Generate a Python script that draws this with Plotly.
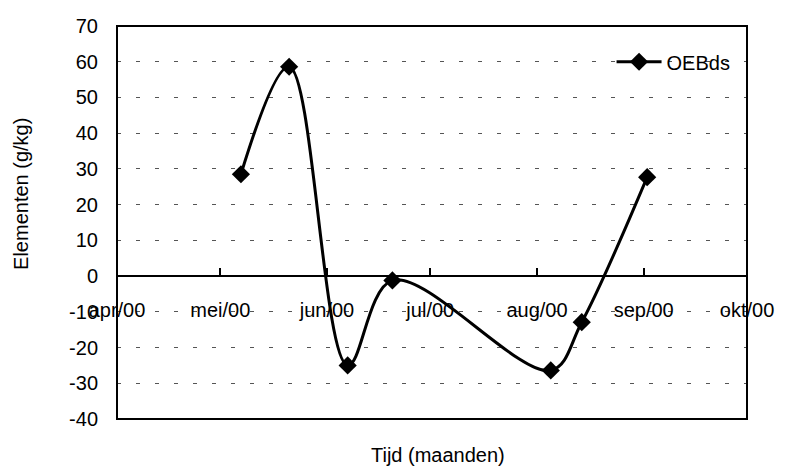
import plotly.graph_objects as go

# sample dates and OEB values
dates = ["2000-05-07", "2000-05-21", "2000-06-07", "2000-06-20",
         "2000-08-05", "2000-08-14", "2000-09-02"]
oeb_values = [28.5, 58.6, -25.0, -1.2, -26.4, -12.9, 27.7]

month_ticks = ["2000-04-01", "2000-05-01", "2000-06-01", "2000-07-01",
               "2000-08-01", "2000-09-01", "2000-10-01"]
month_labels = ["apr/00", "mei/00", "jun/00", "jul/00", "aug/00", "sep/00", "okt/00"]

y_ticks = [-40, -30, -20, -10, 0, 10, 20, 30, 40, 50, 60, 70]
y_labels = ["-40", "-30", "-20", "-10", "0", "10", "20", "30", "40", "50", "60", "70"]

y_min, y_max = -40, 70
font = dict(family="Liberation Sans, Arial, sans-serif", size=20, color="black")

fig = go.Figure()
fig.add_trace(
    go.Scatter(
        x=dates,
        y=oeb_values,
        mode="lines+markers",
        name="OEBds",
        line=dict(color="black", width=3, shape="spline", smoothing=1),
        marker=dict(symbol="diamond", size=14, color="black"),
    )
)

fig.update_layout(
    width=786,
    height=470,
    margin=dict(l=117, r=33, t=26, b=51),
    paper_bgcolor="white",
    plot_bgcolor="white",
    font=font,
    showlegend=True,
    legend=dict(
        x=0.785, y=0.909, xanchor="left", yanchor="middle",
        bgcolor="rgba(0,0,0,0)", font=font, itemwidth=45,
    ),
    xaxis=dict(
        type="date",
        range=["2000-04-01", "2000-10-01"],
        tickvals=month_ticks,
        ticktext=month_labels,
        anchor="free",
        position=(0 - y_min) / (y_max - y_min),
        showline=True,
        linecolor="black",
        linewidth=2,
        ticks="inside",
        ticklen=7,
        tickwidth=1.5,
        tickcolor="black",
        ticklabelstandoff=16,
        showgrid=False,
        zeroline=False,
    ),
    yaxis=dict(
        range=[y_min, y_max],
        tickvals=y_ticks,
        ticktext=y_labels,
        showgrid=True,
        gridcolor="#555555",
        gridwidth=1,
        griddash="4px,15px",
        zeroline=False,
        showline=False,
        ticks="",
        ticklabelstandoff=18,
    ),
    shapes=[
        dict(type="rect", xref="paper", yref="paper", x0=0, x1=1, y0=0, y1=1,
             line=dict(color="black", width=2)),
    ],
    annotations=[
        dict(text="Tijd (maanden)", xref="paper", yref="paper", x=0.51, y=-0.0916,
             xanchor="center", yanchor="middle", showarrow=False, font=font),
        dict(text="Elementen (g/kg)", xref="paper", yref="paper", x=-0.1525, y=0.5725,
             xanchor="center", yanchor="middle", textangle=-90, showarrow=False, font=font),
    ],
)

fig.write_html(
    "out.html",
    config={"displayModeBar": False},
    post_script="document.body.style.margin='0';",
)
